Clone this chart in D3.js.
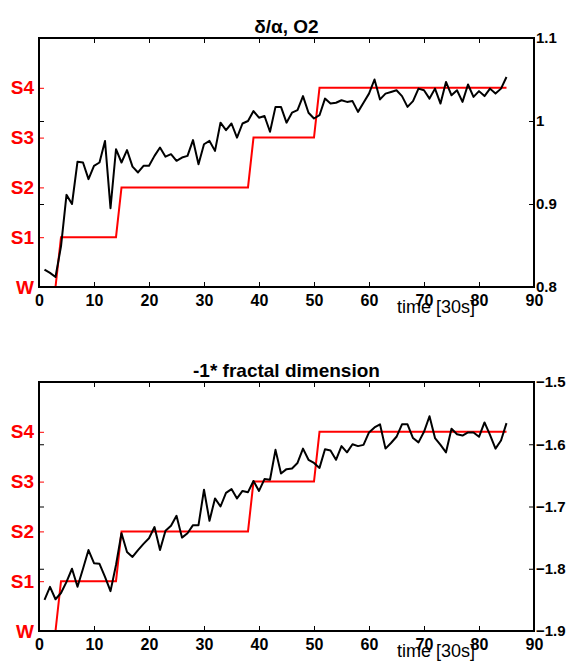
<!DOCTYPE html>
<html lang="en">
<head>
<meta charset="utf-8">
<script src="https://d3js.org/d3.v7.min.js"></script>
<style type="text/css">
body {
  margin: 0;
  background-color: #ffffff;
  font-family: "Liberation Sans", Arial, sans-serif;
}
.title { font-size: 19px; font-weight: bold; }
.tick text { font-family: "Liberation Sans", Arial, sans-serif; font-weight: bold; font-size: 16px; }
.yright .tick text { font-size: 15px; }
.state .tick text { fill: #ff0000; font-size: 19px; }
.state .tick line { stroke: #ff0000; }
.xlabel { font-size: 18px; }
</style>
</head>
<body>
<script type="text/javascript">

// epochs (30 s each)
var epochs = d3.range(1, 86);

// hypnogram: change points of the sleep stage
var hypTime  = [1, 3, 4, 14, 15, 38, 39, 50, 51, 85];
var hypStage = [0, 0, 1, 1, 2, 2, 3, 3, 4, 4];
var stageLabels = ["W", "S1", "S2", "S3", "S4"];

var xTicks = [0, 10, 20, 30, 40, 50, 60, 70, 80, 90];

// delta/alpha ratio, O2
var deltaAlpha = [
  0.821, 0.817, 0.812, 0.849, 0.911, 0.900, 0.951, 0.950, 0.930, 0.946,
  0.950, 0.976, 0.895, 0.966, 0.950, 0.965, 0.945, 0.938, 0.946, 0.946,
  0.958, 0.968, 0.957, 0.960, 0.952, 0.956, 0.958, 0.977, 0.948, 0.972,
  0.976, 0.964, 0.998, 0.989, 0.997, 0.980, 0.997, 1.000, 1.012, 1.004,
  1.006, 0.987, 1.017, 1.017, 0.998, 1.010, 1.013, 1.030, 1.010, 1.003,
  1.007, 1.027, 1.021, 1.022, 1.025, 1.023, 1.024, 1.011, 1.022, 1.033,
  1.050, 1.026, 1.033, 1.035, 1.037, 1.030, 1.017, 1.024, 1.039, 1.037,
  1.027, 1.039, 1.021, 1.047, 1.031, 1.037, 1.023, 1.044, 1.029, 1.036,
  1.030, 1.039, 1.033, 1.039, 1.053
];
var deltaTicks = [0.8, 0.9, 1.0, 1.1];

// -1 * fractal dimension
var fractalDim = [
  -1.850, -1.829, -1.849, -1.839, -1.821, -1.800, -1.829, -1.800, -1.770, -1.791,
  -1.792, -1.813, -1.836, -1.794, -1.743, -1.773, -1.781, -1.770, -1.760, -1.751,
  -1.733, -1.770, -1.739, -1.731, -1.715, -1.750, -1.743, -1.730, -1.730, -1.673,
  -1.723, -1.687, -1.700, -1.678, -1.672, -1.687, -1.675, -1.677, -1.659, -1.675,
  -1.656, -1.657, -1.609, -1.647, -1.640, -1.639, -1.630, -1.607, -1.625, -1.630,
  -1.638, -1.608, -1.610, -1.625, -1.603, -1.613, -1.600, -1.603, -1.601, -1.581,
  -1.573, -1.568, -1.607, -1.598, -1.588, -1.568, -1.568, -1.590, -1.597, -1.580,
  -1.555, -1.590, -1.601, -1.613, -1.575, -1.584, -1.586, -1.581, -1.581, -1.588,
  -1.565, -1.585, -1.607, -1.594, -1.566
];
var fractalTicks = [-1.9, -1.8, -1.7, -1.6, -1.5];

var width = 566;
var height = 664;

var svg = d3.select("body")
  .append("svg")
  .attr("width", width)
  .attr("height", height);

function drawPanel(opts) {
  var left = 39, right = 534;
  var top = opts.top, bottom = opts.bottom;

  var x = d3.scaleLinear().domain([0, 90]).range([left, right]);
  var yState = d3.scaleLinear().domain([0, 5]).range([bottom, top]);
  var yVal = d3.scaleLinear().domain(opts.domain).range([bottom, top]);

  var g = svg.append("g");

  // black ticks of the right scale mirrored on the left side
  g.append("g")
    .attr("transform", "translate(" + left + ",0)")
    .call(d3.axisLeft(yVal).tickValues(opts.ticks).tickSizeInner(-5).tickSizeOuter(0).tickFormat(""))
    .call(function(a) { a.select(".domain").remove(); });

  // stage axis (red)
  g.append("g")
    .attr("class", "state")
    .attr("transform", "translate(" + left + ",0)")
    .call(d3.axisLeft(yState).tickValues([0, 1, 2, 3, 4]).tickSizeInner(-5).tickSizeOuter(0)
      .tickPadding(5).tickFormat(function(d) { return stageLabels[d]; }))
    .call(function(a) { a.select(".domain").remove(); });

  // right value axis
  g.append("g")
    .attr("class", "yright")
    .attr("transform", "translate(" + right + ",0)")
    .call(d3.axisRight(yVal).tickValues(opts.ticks).tickSizeInner(-5).tickSizeOuter(0)
      .tickPadding(2).tickFormat(d3.format("")))
    .call(function(a) { a.select(".domain").remove(); });

  // x axes
  g.append("g")
    .attr("transform", "translate(0," + bottom + ")")
    .call(d3.axisBottom(x).tickValues(xTicks).tickSizeInner(-5).tickSizeOuter(0).tickPadding(8))
    .call(function(a) { a.select(".domain").remove(); });
  g.append("g")
    .attr("transform", "translate(0," + top + ")")
    .call(d3.axisTop(x).tickValues(xTicks).tickSizeInner(-5).tickSizeOuter(0).tickFormat(""))
    .call(function(a) { a.select(".domain").remove(); });

  // hypnogram
  g.append("path")
    .datum(hypTime.map(function(t, i) { return [t, hypStage[i]]; }))
    .attr("fill", "none")
    .attr("stroke", "#ff0000")
    .attr("stroke-width", 2)
    .attr("d", d3.line().x(function(d) { return x(d[0]); }).y(function(d) { return yState(d[1]); }));

  // measure
  g.append("path")
    .datum(opts.values)
    .attr("fill", "none")
    .attr("stroke", "#000")
    .attr("stroke-width", 2)
    .attr("stroke-linejoin", "round")
    .attr("d", d3.line().x(function(d, i) { return x(epochs[i]); }).y(function(d) { return yVal(d); }));

  // frame
  g.append("rect")
    .attr("x", left).attr("y", top)
    .attr("width", right - left).attr("height", bottom - top)
    .attr("fill", "none")
    .attr("stroke", "#000")
    .attr("stroke-width", 2);

  g.append("text")
    .attr("class", "title")
    .attr("x", (left + right) / 2)
    .attr("y", top - 5)
    .attr("text-anchor", "middle")
    .text(opts.title);

  g.append("text")
    .attr("class", "xlabel")
    .attr("x", 436)
    .attr("y", bottom + 26)
    .attr("text-anchor", "middle")
    .text("time [30s]");
}

drawPanel({ top: 38, bottom: 287, domain: [0.8, 1.1], ticks: deltaTicks, values: deltaAlpha, title: "\u03b4/\u03b1, O2" });
drawPanel({ top: 382, bottom: 631, domain: [-1.9, -1.5], ticks: fractalTicks, values: fractalDim, title: "-1* fractal dimension" });

</script>
</body>
</html>
